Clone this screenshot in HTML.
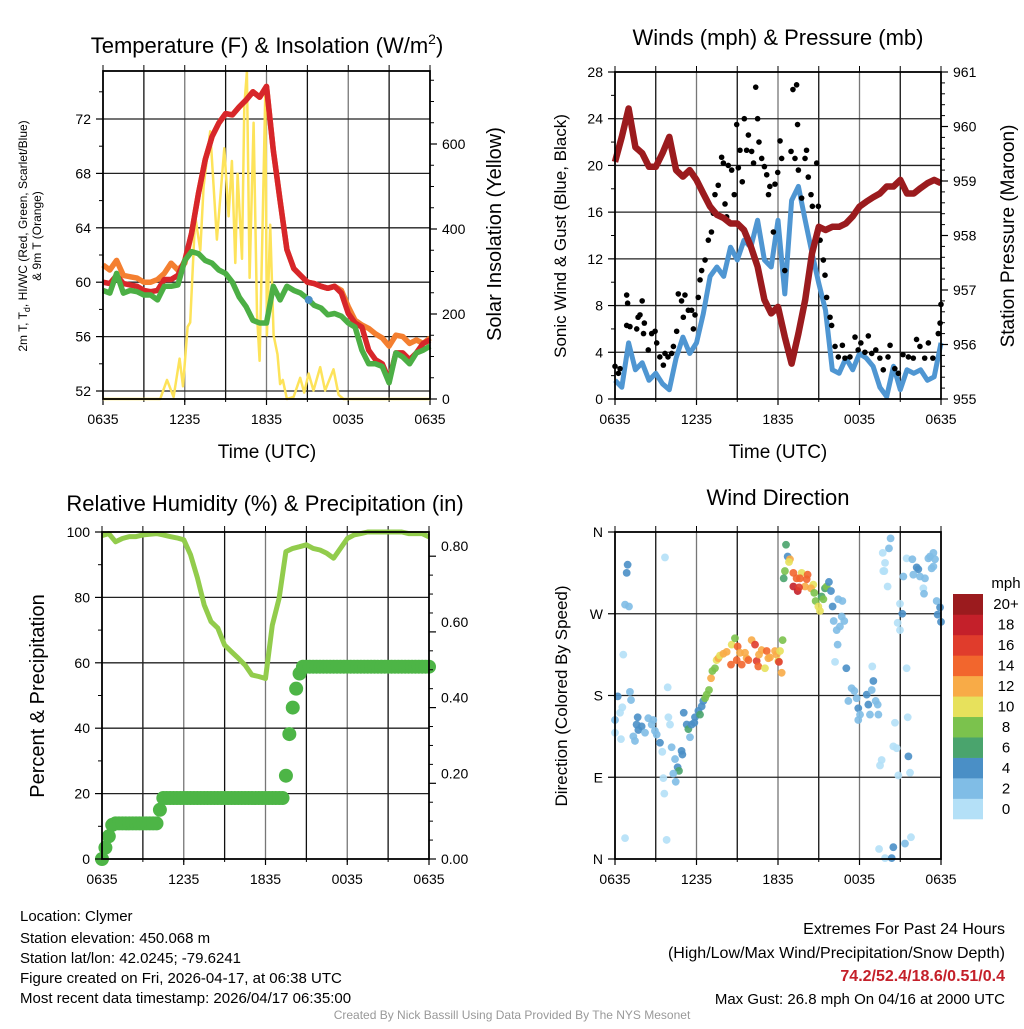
<!DOCTYPE html>
<html><head><meta charset="utf-8"><style>
body{margin:0;background:#fff;}
svg text{font-family:"Liberation Sans",Arial,sans-serif;fill:#000;}
</style></head><body>
<svg id="root" xmlns="http://www.w3.org/2000/svg" width="1024" height="1024" viewBox="0 0 1024 1024">
<rect x="0" y="0" width="1024" height="1024" fill="#fff"/>
<g id="layer"></g>
<text x="267" y="53" font-size="22" text-anchor="middle">Temperature (F) &amp; Insolation (W/m<tspan font-size="14" dy="-9">2</tspan><tspan dy="9">)</tspan></text>
<text x="778" y="45" font-size="22" text-anchor="middle">Winds (mph) &amp; Pressure (mb)</text>
<text x="265" y="511" font-size="22" text-anchor="middle">Relative Humidity (%) &amp; Precipitation (in)</text>
<text x="778" y="505" font-size="22" text-anchor="middle">Wind Direction</text>
<text x="267" y="458" font-size="19" text-anchor="middle">Time (UTC)</text>
<text x="778" y="458" font-size="19" text-anchor="middle">Time (UTC)</text>
<text transform="translate(27,236) rotate(-90)" font-size="12" text-anchor="middle">2m T, T<tspan font-size="9" dy="3">d</tspan><tspan dy="-3">, HI/WC (Red, Green, Scarlet/Blue)</tspan></text>
<text transform="translate(41,236) rotate(-90)" font-size="12" text-anchor="middle">&amp; 9m T (Orange)</text>
<text transform="translate(501,234) rotate(-90)" font-size="20" text-anchor="middle">Solar Insolation (Yellow)</text>
<text transform="translate(566,236) rotate(-90)" font-size="17" text-anchor="middle">Sonic Wind &amp; Gust (Blue, Black)</text>
<text transform="translate(1014,236) rotate(-90)" font-size="19" text-anchor="middle">Station Pressure (Maroon)</text>
<text transform="translate(44,696) rotate(-90)" font-size="20" text-anchor="middle">Percent &amp; Precipitation</text>
<text transform="translate(567,696) rotate(-90)" font-size="17" text-anchor="middle">Direction (Colored By Speed)</text>
<g font-size="15">
<text x="20" y="921">Location: Clymer</text>
<text x="20" y="943">Station elevation: 450.068 m</text>
<text x="20" y="963">Station lat/lon: 42.0245; -79.6241</text>
<text x="20" y="983">Figure created on Fri, 2026-04-17, at 06:38 UTC</text>
<text x="20" y="1003">Most recent data timestamp: 2026/04/17 06:35:00</text>
</g>
<g font-size="16" text-anchor="end">
<text x="1005" y="934">Extremes For Past 24 Hours</text>
<text x="1005" y="958">(High/Low/Max Wind/Precipitation/Snow Depth)</text>
<text x="1005" y="981" font-weight="bold" style="fill:#c4202a">74.2/52.4/18.6/0.51/0.4</text>
<text x="1005" y="1004" font-size="15">Max Gust: 26.8 mph On 04/16 at 2000 UTC</text>
</g>
<text x="512" y="1019" font-size="12" text-anchor="middle" style="fill:#999">Created By Nick Bassill Using Data Provided By The NYS Mesonet</text>
</svg>
<script>
// ---------- data ----------
const timeTicks = ["0635","1235","1835","0035","0635"];
const tempT = [60.0,59.9,60.5,59.9,59.8,59.7,59.4,59.3,59.4,60.2,60.2,60.5,61.6,63.6,66.5,69.0,70.7,71.7,72.4,72.3,72.9,73.4,74.0,73.6,74.4,69.7,66.0,62.4,61.0,60.5,60.0,59.9,59.7,59.55,59.7,59.2,57.7,57.0,56.7,55.0,54.3,54.0,52.8,54.8,54.8,54.3,54.8,55.5,55.75];
const temp9m = [61.27,60.9,61.6,60.5,60.4,60.3,60.0,60.0,60.2,60.65,61.4,60.9,61.4,63.6,66.5,69.0,70.7,71.7,72.4,72.3,72.9,73.4,74.0,73.6,74.4,69.7,66.0,62.4,61.0,60.5,60.0,59.9,59.7,59.55,59.7,59.4,58.2,57.2,56.85,56.6,56.2,55.9,55.3,56.1,56.0,55.5,55.75,55.5,55.9];
const dewpoint = [59.4,59.2,60.65,59.2,59.4,59.3,59.06,59.06,58.7,59.7,59.7,59.8,61.6,62.25,62.1,61.6,61.4,60.9,60.65,60.0,58.9,58.2,57.2,57.0,57.0,59.7,58.7,59.7,59.4,59.2,58.8,58.3,58.1,57.6,57.7,57.5,57.0,56.7,55.0,54.0,54.0,53.8,52.6,54.8,54.5,54.0,54.8,55.0,55.3];
const heatIndexHour = [15.1];
const heatIndexVal = [58.7];
const solarHours = [0,4.2,4.7,5.18,5.62,5.87,6.21,6.4,6.77,7.14,7.38,7.87,8.36,8.9,9.22,9.46,9.71,9.88,10.2,10.37,10.56,10.76,11.05,11.3,11.49,11.71,11.91,12.03,12.27,12.52,12.81,13.0,13.2,13.5,13.99,14.47,14.77,15.09,15.45,15.94,16.3,16.92,17.29,17.65,24];
const solarW = [0,0,45,5,95,30,170,180,430,350,500,630,375,590,430,560,320,530,330,690,770,285,650,200,90,400,720,150,410,150,105,35,45,0,5,50,15,60,20,75,20,70,10,0,0];
const pressure = [959.35,959.81,960.33,959.62,959.51,959.26,959.26,959.51,959.81,959.2,959.08,959.2,959.02,958.77,958.53,958.38,958.32,958.22,958.22,958.1,957.8,957.43,956.82,956.57,956.69,956.14,955.65,956.2,956.82,957.67,958.16,958.1,958.16,958.16,958.22,958.35,958.53,958.62,958.7,958.77,958.9,958.9,959.02,958.77,958.77,958.87,958.96,959.02,958.96];
const sonicWind = [1.6,1.0,4.8,2.5,3.1,1.6,2.2,1.3,0.8,3.5,5.3,3.9,4.8,7.3,10.5,11.3,10.5,13.0,11.9,13.6,13.0,15.3,11.9,11.3,15.3,9.0,17.0,18.2,15.3,12.5,9.9,7.6,2.5,2.2,3.5,2.5,3.9,3.5,2.8,1.0,0.2,2.8,0.8,2.5,2.2,2.5,1.6,1.9,4.8];
const gustHours = [0,0.37,0.25,0.86,0.93,0.86,1.1,1.6,1.7,2.0,1.84,2.16,2.1,2.45,2.7,2.95,3.07,3.3,3.56,3.68,3.9,4.17,4.3,4.54,4.66,4.9,5.03,5.15,5.4,5.64,5.89,5.77,6.13,6.26,6.38,6.63,6.87,7.1,7.24,7.36,7.6,7.85,7.98,8.1,8.22,8.34,8.59,8.78,8.96,9.08,9.2,9.37,9.52,9.69,9.82,10.06,10.2,10.36,10.5,10.6,10.8,11.0,11.17,11.3,11.4,11.66,11.78,11.98,12.15,12.27,12.5,12.96,13.1,13.37,13.25,13.44,13.5,13.74,13.99,14.1,14.23,14.43,14.53,14.85,14.97,15.1,15.34,15.46,15.58,15.83,15.95,16.2,16.44,16.74,16.93,17.3,17.67,17.9,18.1,18.4,18.65,18.9,19.2,19.5,19.75,20.1,20.25,20.6,20.86,21.2,21.6,21.96,22.2,22.45,22.8,23.07,23.4,23.8,23.93,24.0];
const gustMph = [2.8,2.6,2.2,8.9,8.2,6.3,6.2,6.0,7.0,8.4,7.2,6.5,5.6,4.2,5.6,5.8,4.8,3.6,2.9,3.9,3.6,3.9,4.5,5.8,9.0,8.4,7.0,8.9,7.6,7.6,7.2,6.0,8.7,10.2,11.0,11.9,13.6,14.3,15.9,17.5,18.3,20.7,20.2,16.7,15.6,20.0,19.6,17.5,23.5,19.8,21.3,18.6,24.0,21.3,22.6,21.2,20.2,26.7,24.0,22.0,20.6,19.9,19.2,17.5,18.2,14.3,18.4,19.4,22.1,20.6,11.0,21.2,26.5,26.9,20.6,23.5,19.6,17.2,20.6,21.3,19.0,17.5,16.5,20.2,16.5,13.6,11.9,10.6,8.7,7.0,6.3,4.5,3.6,4.6,3.5,3.6,5.3,4.2,4.8,4.0,5.4,3.9,4.2,3.5,2.5,3.6,4.6,2.6,2.2,3.8,3.6,3.5,5.1,4.5,3.5,4.8,3.5,5.6,6.5,8.1];
const rh = [98.9,99.5,97,98,98.6,98.6,99.1,99.3,99.5,99.1,98.6,98.2,97.6,93,86,77.7,72.6,70.6,65.4,63.4,61.4,59.3,56.3,55.8,55.2,71.5,79.7,94,95,95.5,96.1,95,94.5,93.5,92,95,98,99.1,99.5,100,100,100,100,100,100,99.5,99.5,99.5,98.5];
const precip = [0,0.03,0.06,0.09,
0.094,0.094,0.094,0.094,0.094,0.094,0.094,0.094,0.094,0.094,0.094,0.094,0.094,
0.13,
0.161,0.161,0.161,0.161,0.161,0.161,0.161,0.161,0.161,0.161,0.161,0.161,0.161,0.161,0.161,0.161,0.161,0.161,0.161,0.161,0.161,0.161,0.161,0.161,0.161,0.161,0.161,0.161,0.161,0.161,0.161,0.161,0.161,0.161,0.161,0.161,
0.22,0.33,0.40,0.45,0.49,
0.508,0.508,0.508,0.508,0.508,0.508,0.508,0.508,0.508,0.508,0.508,0.508,0.508,0.508,0.508,0.508,0.508,0.508,0.508,0.508,0.508,0.508,0.508,0.508,0.508,0.508,0.508,0.508,0.508,0.508,0.508,0.508,0.508,0.508,0.508,0.508,0.508,0.508];
const dirHours = [0.93,0.86,0.74,1.03,3.68,0.61,0.2,1.1,1.18,0.54,0.37,0,0,0.44,1.67,1.59,1.96,1.72,1.35,1.47,2.45,2.82,2.7,2.94,3.07,2.21,3.31,3.48,3.88,3.93,4.05,4.17,4.42,4.9,4.96,4.61,4.71,4.29,4.47,3.56,3.63,0.74,3.8,5.06,5.28,5.4,5.52,5.64,5.84,5.89,6.14,6.26,6.38,6.5,6.63,6.75,6.92,7.07,7.17,7.36,7.48,7.61,7.73,7.98,8.22,8.54,8.59,8.83,8.96,9.03,9.2,9.33,9.57,9.69,9.82,10.06,10.31,10.43,10.55,10.6,10.8,11.04,11.17,11.29,11.41,11.78,11.9,12.02,12.07,12.15,12.27,12.34,12.59,12.71,12.88,12.81,12.51,12.42,13.13,13.37,13.74,13.62,14.11,14.18,13.99,13.13,13.45,13.55,14.6,14.43,14.67,14.77,14.97,15.09,15.21,15.34,15.46,15.58,15.75,15.9,16.44,16.74,16.02,16.69,16.88,16.1,16.32,16.56,16.39,16.2,17.03,17.42,17.62,17.18,17.79,17.91,18.53,18.65,18.9,19.02,19.19,19.34,18.04,18.77,19.39,18.94,17.91,20.61,21.55,20.49,20.74,21.6,19.63,19.51,21.72,20.86,19.44,19.88,20.37,20.49,21.35,21.79,20.29,20.17,19.71,19.88,19.83,20.07,20.98,21.15,20.81,20.98,21.47,21.47,21.89,22.21,22.33,21.96,22.45,22.82,23.19,23.44,23.56,23.07,23.44,23.31,22.7,22.75,23.68,23.93,23.75,24.0,21.23,19.75];
const dirDeg = [324,315,280,278,332,225,179,184,175,167,161,153,139,132,156,148,146,142,135,130,155,153,148,141,137,139,128,118,189,156,148,123,110,119,115,101,97,94,85,89,72,23,21,161,148,143,134,148,150,156,163,159,168,174,177,181,186,199,207,210,219,221,224,226,228,214,236,243,219,234,227,214,227,221,219,241,236,218,212,225,230,210,229,221,222,229,225,218,217,229,205,241,346,333,330,327,317,309,315,309,315,309,308,313,300,300,295,299,302,298,293,284,278,273,289,286,298,300,305,295,286,284,278,267,262,262,252,256,236,217,210,188,185,174,177,166,181,170,186,196,174,170,159,159,159,212,153,150,156,124,122,113,109,103,95,92,11,1,1,13,17,24,353,342,337,326,317,300,281,270,260,252,210,331,330,321,319,313,311,309,333,337,330,331,322,320,298,292,284,277,269,261,311,317];
const dirSpeed = [4.5,4.5,3,3,1,1,4.5,3,3,1,1,3,1,1,4.5,4.5,4.5,4.5,3,3,3,3,3,3,3,3,4.5,1,1,1,1,3,3,4.5,4.5,4.5,7,3,3,1,1,1,1,4.5,4.5,7,3,4.5,4.5,4.5,4.5,7,4.5,4.5,9,9,9,13,9,9,11,13,11,13,13,15,11,9,15,15,13,15,13,13,15,13,17,17,15,13,13,11,15,13,13,13,13,11,17,11,13,9,7,4.5,13,11,9,7,15,15,11,15,15,15,13,18,18,17,11,13,9,9,11,11,7,9,7,9,4.5,4.5,3,3,4.5,3,3,3,3,3,3,1,4.5,3,3,3,3,4.5,4.5,4.5,3,4.5,3,3,3,3,3,1,3,1,1,1,1,4.5,1,1,1,1,1,1,4.5,4.5,3,1,3,3,1,1,1,1,1,4.5,1,1,1,1,3,4.5,4.5,3,3,3,3,3,3,3,3,3,1,3,3,4.5,4.5,4.5,3,1];
const speedBins = ["0","2","4","6","8","10","12","14","16","18","20+"];
const speedColors = ["#b4e0f7","#80bde6","#4a8fc6","#4aa46d","#7bc24d","#e7e15c","#f8ab47","#f2662d","#e03c2c","#c4202a","#9b1b1e"];

// ---------- helpers ----------
const NS="http://www.w3.org/2000/svg";
const layer=document.getElementById('layer');
function el(tag,attrs,parent){const e=document.createElementNS(NS,tag);for(const k in attrs)e.setAttribute(k,attrs[k]);(parent||layer).appendChild(e);return e;}
function lin(d0,d1,p0,p1){return v=>p0+(v-d0)/(d1-d0)*(p1-p0);}
function halfHour(i){return i*0.5;}
function pathOf(xs,ys){return xs.map((x,i)=>(i?'L':'M')+x.toFixed(1)+','+ys[i].toFixed(1)).join('');}

function panelFrame(P,name){
  const g=el('g',{});
  
  
  for(let h=3;h<24;h+=3){const x=P.x(h);el('line',{x1:x,x2:x,y1:P.y0,y2:P.y1,stroke:(h%6===0)?'#777':'#111','stroke-width':1.3},g);}
  P.hgrid.forEach(v=>{const y=P.yl(v);el('line',{x1:P.x0,x2:P.x1,y1:y,y2:y,stroke:'#222','stroke-width':1.3},g);});
  const tg=el('g',{'font-size':14});
  
  
  timeTicks.forEach((t,i)=>{const x=P.x(i*6);el('line',{x1:x,x2:x,y1:P.y1,y2:P.y1+6,stroke:'#000','stroke-width':1.2},tg);
    const tx=el('text',{x:x,y:P.y1+25,'text-anchor':'middle'},tg);tx.textContent=t;});
  for(let h=0;h<=24;h+=3){const x=P.x(h);el('line',{x1:x,x2:x,y1:P.y1,y2:P.y1+3,stroke:'#000'},tg);el('line',{x1:x,x2:x,y1:P.y0,y2:P.y0-6,stroke:'#000'},tg);}
}
function frameBox(P,name){
  const r=el('rect',{x:P.x0,y:P.y0,width:P.x1-P.x0,height:P.y1-P.y0,fill:'none',stroke:'#000','stroke-width':1.8});
  
  
}
function yTicks(P,scale,vals,labels,side,name,minor,labelDy){
  const g=el('g',{'font-size':14});
  
  
  const xa= side==='left'?P.x0:P.x1, dir= side==='left'?-1:1;
  vals.forEach((v,i)=>{const y=scale(v);el('line',{x1:xa,x2:xa+dir*7,y1:y,y2:y,stroke:'#000','stroke-width':1.2},g);
    const t=el('text',{x:xa+dir*12,y:y+5+(labelDy?labelDy[i]:0),'text-anchor':side==='left'?'end':'start'},g);t.textContent=labels[i];});
  (minor||[]).forEach(v=>{const y=scale(v);el('line',{x1:xa,x2:xa+dir*4,y1:y,y2:y,stroke:'#000'},g);});
}

// ---------- Panel 1: temperature ----------
(function(){
  const P={x0:103,x1:430,y0:71,y1:399};
  P.x=lin(0,24,P.x0,P.x1);
  const yT=lin(52,76,391,64.6);
  const yS=lin(0,200,399,314);
  P.yl=yT; P.hgrid=[52,56,60,64,68,72];
  panelFrame(P,'temp');
  const xs=tempT.map((v,i)=>P.x(halfHour(i)));
  let p=el('path',{d:pathOf(solarHours.map(P.x),solarW.map(yS)),fill:'none',stroke:'#fde35a','stroke-width':2.5,'stroke-linejoin':'round'});
  
  
  p=el('path',{d:pathOf(xs,temp9m.map(yT)),fill:'none',stroke:'#f47f30','stroke-width':5.5,'stroke-linejoin':'round'});
  
  
  p=el('path',{d:pathOf(xs,tempT.map(yT)),fill:'none',stroke:'#d7262a','stroke-width':5.5,'stroke-linejoin':'round'});
  
  
  p=el('path',{d:pathOf(xs,dewpoint.map(yT)),fill:'none',stroke:'#4caf45','stroke-width':5.5,'stroke-linejoin':'round'});
  
  
  heatIndexHour.forEach((h,i)=>{const c=el('circle',{cx:P.x(h),cy:yT(heatIndexVal[i]),r:4,fill:'#4a8fc6'});
    
    });
  frameBox(P,'temp');
  yTicks(P,yT,[52,56,60,64,68,72],["52","56","60","64","68","72"],'left','temp-y-ticks',[54,58,62,66,70,74]);
  yTicks(P,yS,[0,200,400,600],["0","200","400","600"],'right','solar-y-ticks',[50,100,150,250,300,350,450,500,550,650,700,750]);
})();

// ---------- Panel 2: winds ----------
(function(){
  const P={x0:615,x1:941,y0:72,y1:399};
  P.x=lin(0,24,P.x0,P.x1);
  const yW=lin(0,28,399,72);
  const yP=lin(955,961,399,72);
  P.yl=yW; P.hgrid=[4,8,12,16,20,24];
  panelFrame(P,'wind');
  const xs=sonicWind.map((v,i)=>P.x(halfHour(i)));
  let p=el('path',{d:pathOf(xs,sonicWind.map(yW)),fill:'none',stroke:'#4f96d2','stroke-width':5,'stroke-linejoin':'round'});
  
  
  const gg=el('g',{});
  
  
  gustHours.forEach((h,i)=>{const c=el('circle',{cx:P.x(h),cy:yW(gustMph[i]),r:2.8,fill:'#000'},gg);
    
    });
  p=el('path',{d:pathOf(xs,pressure.map(yP)),fill:'none',stroke:'#9b1b1e','stroke-width':6.5,'stroke-linejoin':'round'});
  
  
  frameBox(P,'wind');
  yTicks(P,yW,[0,4,8,12,16,20,24,28],["0","4","8","12","16","20","24","28"],'left','wind-y-ticks',[2,6,10,14,18,22,26]);
  yTicks(P,yP,[955,956,957,958,959,960,961],["955","956","957","958","959","960","961"],'right','pressure-y-ticks',[955.2,955.4,955.6,955.8,956.2,956.4,956.6,956.8,957.2,957.4,957.6,957.8,958.2,958.4,958.6,958.8,959.2,959.4,959.6,959.8,960.2,960.4,960.6,960.8]);
})();

// ---------- Panel 3: RH & precip ----------
(function(){
  const P={x0:102,x1:429,y0:532,y1:859};
  P.x=lin(0,24,P.x0,P.x1);
  const yR=lin(0,100,859,532);
  const yIn=lin(0,0.2,859,783.3);
  P.yl=yR; P.hgrid=[20,40,60,80];
  panelFrame(P,'rh');
  const xs=rh.map((v,i)=>P.x(halfHour(i)));
  let p=el('path',{d:pathOf(xs,rh.map(yR)),fill:'none',stroke:'#92cc4c','stroke-width':5,'stroke-linejoin':'round'});
  
  
  const pg=el('g',{});
  
  
  precip.forEach((v,i)=>{const c=el('circle',{cx:P.x(i*0.25),cy:yIn(v),r:7,fill:'#4db546'},pg);
    
    });
  frameBox(P,'rh');
  yTicks(P,yR,[0,20,40,60,80,100],["0","20","40","60","80","100"],'left','rh-y-ticks',[10,30,50,70,90]);
  yTicks(P,yIn,[0,0.2,0.4,0.6,0.8],["0.00","0.20","0.40","0.60","0.80"],'right','precip-y-ticks',[0.05,0.1,0.15,0.25,0.3,0.35,0.45,0.5,0.55,0.65,0.7,0.75],[0,-10,-10,-10,-10]);
})();

// ---------- Panel 4: wind direction ----------
(function(){
  const P={x0:615,x1:941,y0:532,y1:859};
  P.x=lin(0,24,P.x0,P.x1);
  const yD=lin(0,360,859,532);
  P.yl=yD; P.hgrid=[90,180,270];
  panelFrame(P,'direction');
  const dg=el('g',{});
  
  
  dirHours.forEach((h,i)=>{const b=Math.min(10,Math.floor(dirSpeed[i]/2));
    const c=el('circle',{cx:P.x(h),cy:yD(dirDeg[i]),r:3.9,fill:speedColors[b],'fill-opacity':0.9},dg);
    
    });
  frameBox(P,'direction');
  yTicks(P,yD,[0,90,180,270,360],["N","E","S","W","N"],'left','direction-y-ticks',[]);
  const cb=el('g',{'font-size':15});
  
  
  const t=el('text',{x:1006,y:588,'text-anchor':'middle'},cb);t.textContent='mph';
  const n=speedBins.length, top=594, hgt=225/n;
  speedBins.forEach((lab,i)=>{const k=n-1-i;const y=top+k*hgt;
    const r=el('rect',{x:953,y:y,width:30,height:hgt+0.3,fill:speedColors[i]},cb);
    
    
    const tx=el('text',{x:1006,y:y+hgt/2+5,'text-anchor':'middle'},cb);tx.textContent=lab;});
})();
</script>
</body></html>
